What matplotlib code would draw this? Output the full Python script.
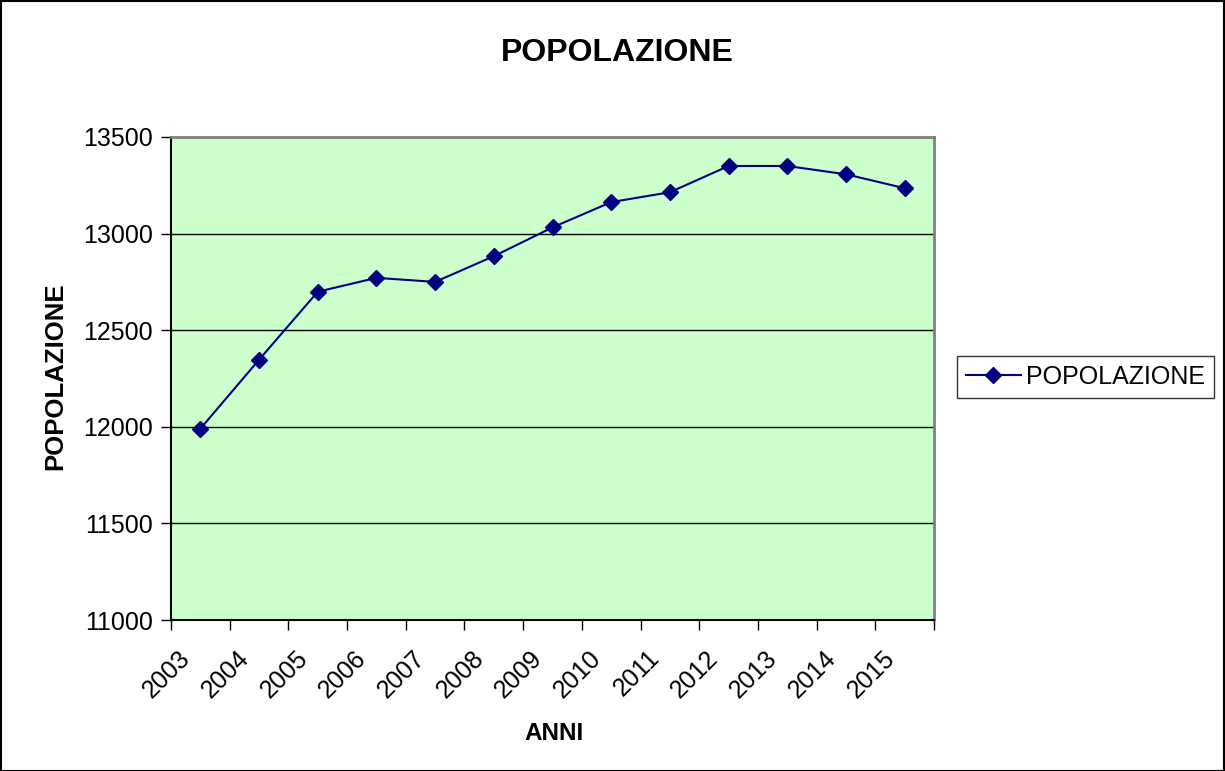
import matplotlib
matplotlib.use("Agg")
import matplotlib.pyplot as plt
import matplotlib.transforms as mtransforms
from matplotlib.patches import Rectangle

years = ["2003", "2004", "2005", "2006", "2007", "2008", "2009",
         "2010", "2011", "2012", "2013", "2014", "2015"]
popolazione = [11990, 12347, 12699, 12771, 12750, 12883, 13032,
               13163, 13214, 13350, 13350, 13307, 13235]
y_ticks = [11000, 11500, 12000, 12500, 13000, 13500]

plt.rcParams['font.family'] = ['Liberation Sans', 'DejaVu Sans']

W, H = 1225, 771
fig = plt.figure(figsize=(W / 100, H / 100), dpi=100)
# plot area in pixels
L, R, T, B = 171, 934, 137, 620
ax = fig.add_axes([L / W, 1 - B / H, (R - L) / W, (B - T) / H])
ax.set_facecolor('#CCFFCC')

x = list(range(len(years)))
ax.plot(x, popolazione, color='#000080', lw=1.5, marker='D', markersize=8.5,
        markerfacecolor='#000080', markeredgecolor='#000080', label='POPOLAZIONE',
        zorder=3)

ax.set_xlim(-0.5, len(years) - 0.5)
ax.set_ylim(11000, 13500)
ax.set_yticks(y_ticks)
ax.set_yticklabels([str(v) for v in y_ticks], fontsize=18)
ax.yaxis.grid(True, color='black', lw=1.0)
ax.set_axisbelow(True)

ax.set_xticks(x)
ax.set_xticklabels([])
offset = mtransforms.ScaledTranslation(-5.5 / 100, -26 / 100, fig.dpi_scale_trans)
for i, yr in zip(x, years):
    ax.text(i, 0, yr, transform=ax.get_xaxis_transform() + offset, fontsize=18,
            rotation=45, ha='right', va='top', rotation_mode='default', clip_on=False)
ax.set_xticks([i - 0.5 for i in range(len(years) + 1)], minor=True)
ax.tick_params(axis='x', which='major', length=0)
ax.tick_params(axis='x', which='minor', length=7, width=1, direction='out', color='black')
ax.tick_params(axis='y', length=7, width=1, direction='out', pad=6)

for s in ['top', 'right']:
    ax.spines[s].set_color('#808080')
    ax.spines[s].set_linewidth(2)
for s in ['left', 'bottom']:
    ax.spines[s].set_color('black')
    ax.spines[s].set_linewidth(1.5)

fig.text(617 / W, 1 - 53 / H, 'POPOLAZIONE', fontsize=23, fontweight='bold',
         ha='center', va='center')
fig.text(554 / W, 1 - 733 / H, 'ANNI', fontsize=17.5, fontweight='bold',
         ha='center', va='center')
fig.text(55 / W, 1 - 376 / H, 'POPOLAZIONE', fontsize=18.5, fontweight='bold',
         ha='center', va='center', rotation=90)

leg = fig.legend(loc='center left', bbox_to_anchor=(957 / W, 1 - 377 / H),
                 fontsize=18, frameon=True, fancybox=False, handlelength=2.2,
                 handletextpad=0.2, borderpad=0.35, borderaxespad=0)
leg.get_frame().set_edgecolor('black')
leg.get_frame().set_linewidth(1)

fig.patches.append(Rectangle((0.5 / W, 0.5 / H), 1 - 1.5 / W, 1 - 1.5 / H,
                             transform=fig.transFigure, fill=False,
                             edgecolor='black', lw=1.5))

fig.savefig('out.png', dpi=100)
